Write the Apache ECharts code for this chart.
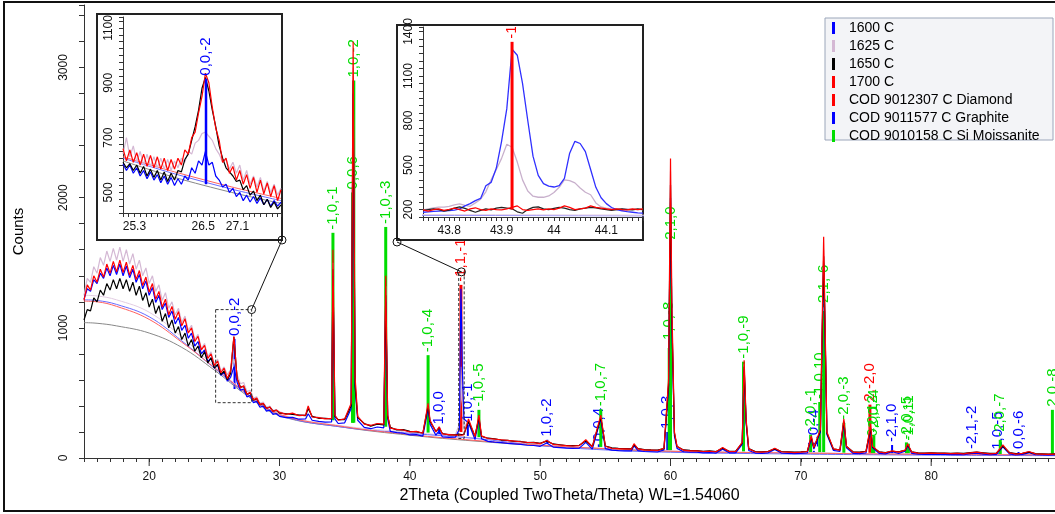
<!DOCTYPE html>
<html>
<head>
<meta charset="utf-8">
<script src="https://cdn.jsdelivr.net/npm/echarts@6/dist/echarts.min.js"></script>
<style>
  html, body { margin: 0; padding: 0; background: #fff; }
  #chart { width: 1055px; height: 514px; }
</style>
</head>
<body>
<div id="chart"></div>
<script>
// ---- main pattern: 2theta grid (0.25 step in the hump, 0.5 step after + peak points)
const twoTheta = [
  15, 15.25, 15.5, 15.75, 16, 16.25, 16.5, 16.75, 17, 17.25, 17.5, 17.75,
  18, 18.25, 18.5, 18.75, 19, 19.25, 19.5, 19.75, 20, 20.25, 20.5, 20.75,
  21, 21.25, 21.5, 21.75, 22, 22.25, 22.5, 22.75, 23, 23.25, 23.5, 23.75,
  24, 24.25, 24.5, 24.75, 25, 25.25, 25.5, 25.75, 26, 26.25, 26.5, 26.75,
  27, 27.25, 27.5, 27.75, 28, 28.25, 28.5, 28.75, 29, 29.25, 29.5, 29.75,
  30, 30.5, 31, 31.5, 32, 32.2, 32.5, 33, 33.5, 34,
  34.1, 34.25, 34.5, 35, 35.5, 35.65, 35.8, 36, 36.5, 37,
  37.5, 38, 38.15, 38.3, 38.5, 39, 39.5, 40, 40.5, 41,
  41.4, 41.55, 42, 42.25, 42.5, 43, 43.5, 43.8, 43.92, 43.98,
  44.03, 44.15, 44.5, 45, 45.3, 45.5, 46, 46.5, 47, 47.5,
  48, 48.5, 49, 49.5, 50, 50.5, 51, 51.5, 52, 52.5,
  53, 53.5, 54, 54.65, 55, 55.5, 56, 56.5, 57, 57.2,
  57.5, 58, 58.5, 59, 59.5, 59.85, 60, 60.1, 60.3, 60.5,
  61, 61.5, 62, 62.5, 63, 63.5, 64, 64.5, 65, 65.5,
  65.65, 65.8, 66, 66.5, 67, 67.5, 68, 68.5, 69, 69.5,
  70, 70.5, 70.8, 71, 71.5, 71.75, 71.9, 72, 72.5, 73,
  73.3, 73.5, 74, 74.5, 75, 75.35, 75.5, 76, 76.5, 77,
  77.5, 78, 78.2, 78.5, 79, 79.5, 80, 80.5, 81, 81.5,
  82, 82.5, 83, 83.5, 84, 84.5, 85, 85.5, 86, 86.5,
  87, 87.5, 88, 88.5, 89, 89.5
];

const counts1600 = [
  1220, 1300, 1280, 1370, 1340, 1420, 1380, 1460, 1400, 1480, 1410, 1490,
  1400, 1475, 1385, 1450, 1350, 1410, 1300, 1360, 1250, 1310, 1195, 1250,
  1140, 1190, 1080, 1130, 1030, 1080, 980, 1020, 920, 960, 860, 895,
  800, 830, 740, 770, 690, 715, 635, 660, 590, 620, 700, 580,
  520, 530, 470, 480, 425, 435, 390, 398, 360, 368, 335, 342,
  320, 310, 312, 298, 300, 340, 290, 282, 275, 278,
  1400, 300, 265, 270, 380, 2800, 540, 290, 235, 225,
  238, 232, 1200, 300, 205, 195, 190, 178, 180, 168,
  380, 260, 175, 210, 162, 158, 160, 220, 1300, 1000,
  680, 300, 270, 142, 300, 148, 128, 122, 118, 112,
  108, 104, 98, 96, 90, 115, 84, 80, 76, 74,
  76, 120, 68, 300, 72, 60, 57, 55, 54, 95,
  56, 50, 48, 46, 62, 540, 2000, 1050, 170, 74,
  48, 44, 44, 40, 42, 38, 68, 40, 40, 105,
  680, 270, 58, 38, 36, 40, 65, 38, 36, 33,
  36, 40, 150, 68, 200, 1500, 720, 180, 58, 50,
  270, 78, 36, 34, 40, 220, 78, 36, 32, 48,
  36, 52, 95, 36, 30, 28, 30, 28, 28, 26,
  28, 25, 34, 38, 30, 25, 28, 85, 32, 23,
  28, 40, 25, 23, 22, 24
];

const counts1625 = [
  1250, 1380, 1350, 1470, 1420, 1540, 1480, 1590, 1510, 1610, 1520, 1620,
  1510, 1600, 1490, 1570, 1450, 1520, 1400, 1460, 1340, 1400, 1280, 1330,
  1210, 1270, 1150, 1200, 1100, 1150, 1040, 1090, 980, 1020, 910, 950,
  840, 880, 780, 815, 720, 760, 670, 700, 640, 680, 760, 640,
  570, 580, 510, 520, 460, 470, 420, 430, 390, 398, 365, 372,
  355, 340, 340, 330, 335, 390, 318, 312, 305, 300,
  1500, 325, 292, 302, 410, 3000, 600, 318, 262, 252,
  262, 262, 1320, 325, 232, 222, 212, 202, 203, 188,
  410, 285, 202, 235, 186, 182, 178, 260, 700, 450,
  420, 230, 290, 166, 320, 168, 152, 146, 138, 134,
  132, 124, 121, 117, 112, 132, 104, 101, 94, 93,
  96, 135, 86, 320, 90, 76, 73, 70, 67, 105,
  71, 63, 60, 58, 73, 580, 2200, 1150, 195, 88,
  60, 56, 55, 51, 52, 49, 78, 50, 50, 118,
  720, 290, 70, 48, 46, 50, 72, 48, 46, 43,
  46, 50, 165, 80, 215, 1600, 780, 195, 70, 60,
  290, 88, 46, 43, 50, 240, 88, 46, 40, 54,
  46, 60, 105, 46, 38, 36, 38, 35, 36, 33,
  35, 33, 40, 44, 38, 33, 35, 95, 40, 31,
  35, 48, 32, 30, 29, 30
];

const counts1650 = [
  1060, 1140, 1130, 1230, 1200, 1290, 1250, 1340, 1290, 1370, 1300, 1380,
  1300, 1370, 1280, 1350, 1250, 1320, 1210, 1270, 1160, 1220, 1110, 1170,
  1050, 1110, 1000, 1060, 960, 1010, 910, 960, 860, 910, 820, 860,
  770, 815, 730, 770, 690, 720, 640, 670, 600, 650, 930, 610,
  545, 550, 490, 500, 445, 455, 410, 418, 382, 390, 360, 366,
  345, 340, 335, 330, 325, 380, 320, 305, 305, 300,
  1450, 320, 295, 295, 400, 2900, 560, 310, 265, 245,
  260, 255, 1250, 320, 235, 215, 218, 205, 200, 192,
  400, 280, 205, 230, 188, 178, 178, 182, 192, 180,
  185, 182, 280, 168, 310, 165, 152, 148, 138, 136,
  128, 127, 118, 120, 112, 130, 108, 102, 96, 95,
  98, 130, 88, 310, 92, 78, 74, 72, 70, 100,
  72, 65, 62, 60, 72, 560, 2100, 1100, 190, 88,
  62, 58, 56, 52, 55, 50, 75, 52, 52, 115,
  700, 280, 72, 50, 48, 52, 70, 50, 48, 45,
  48, 52, 160, 78, 210, 1550, 750, 190, 68, 62,
  280, 88, 48, 45, 52, 230, 85, 48, 42, 52,
  48, 58, 100, 48, 40, 38, 40, 38, 38, 35,
  37, 35, 42, 45, 40, 35, 38, 90, 42, 33,
  36, 45, 34, 32, 30, 32
];

const counts1700 = [
  1210, 1330, 1290, 1400, 1350, 1450, 1390, 1490, 1420, 1510, 1430, 1520,
  1425, 1505, 1405, 1480, 1370, 1440, 1325, 1390, 1275, 1340, 1220, 1280,
  1160, 1220, 1100, 1165, 1065, 1125, 1015, 1070, 960, 1000, 895, 935,
  830, 865, 765, 800, 710, 745, 655, 690, 610, 670, 935, 610,
  540, 555, 490, 505, 445, 460, 410, 420, 380, 392, 358, 368,
  350, 335, 345, 325, 330, 400, 315, 310, 300, 305,
  1600, 330, 290, 300, 420, 3200, 620, 320, 260, 250,
  265, 260, 1400, 330, 230, 220, 215, 200, 205, 190,
  420, 290, 200, 240, 185, 180, 175, 178, 185, 175,
  190, 180, 300, 165, 330, 170, 150, 145, 140, 135,
  130, 125, 120, 118, 110, 135, 105, 100, 95, 92,
  95, 140, 85, 330, 90, 75, 72, 70, 68, 110,
  70, 62, 60, 58, 75, 600, 2300, 1200, 200, 90,
  60, 55, 55, 50, 52, 48, 80, 50, 50, 120,
  750, 300, 70, 48, 45, 50, 75, 48, 45, 42,
  45, 50, 170, 80, 220, 1700, 800, 200, 70, 60,
  300, 90, 45, 42, 50, 250, 90, 45, 40, 55,
  45, 60, 110, 45, 38, 36, 38, 35, 36, 33,
  35, 32, 40, 45, 38, 32, 35, 100, 40, 30,
  35, 50, 32, 30, 28, 30
];

// ---- fitted backgrounds (thin lines), main view
const bgTheta = [15, 16, 17.5, 20, 22.5, 25, 27.5, 30, 35, 40, 45, 50, 55, 60, 70, 80, 89.5];
const bg1600 = [1215, 1210, 1180, 1085, 900, 690, 490, 330, 235, 190, 150, 95, 62, 44, 30, 22, 18];
const bg1625 = [1250, 1245, 1215, 1120, 930, 705, 500, 340, 245, 198, 155, 102, 74, 54, 40, 30, 25];
const bg1650 = [1040, 1035, 1015, 960, 850, 675, 480, 325, 235, 175, 130, 95, 70, 50, 38, 28, 24];
const bg1700 = [1205, 1200, 1165, 1065, 890, 695, 495, 335, 240, 180, 135, 98, 72, 52, 38, 28, 24];

// ---- fitted backgrounds as read in inset 1
const inset1BgTheta = [25.1, 26.0, 27.0, 27.86];
const inset1Bg1600 = [625, 568, 512, 470];
const inset1Bg1650 = [615, 555, 500, 460];
const inset1Bg1700 = [630, 575, 520, 478];

// ---- reference sticks: position, base, top, hkl label
const diamondTheta = [43.92, 75.3];
const diamondBase = [200, 40];
const diamondTop = [1330, 410];
const diamondLabels = ['-1,1,-1', '2,-2,0'];

const graphiteTheta = [26.55, 42.25, 44.45, 50.55, 54.5, 59.75, 71.0, 77.0, 83.1, 85.1, 86.7];
const graphiteBase = [530, 180, 170, 110, 85, 60, 45, 35, 30, 30, 28];
const graphiteTop = [915, 235, 255, 140, 105, 200, 55, 100, 46, 40, 46];
const graphiteLabels = ['0,0,-2', '1,0,0', '1,0,-1', '1,0,-2', '0,0,4', '1,0,3', '1,0,-4', '-2,1,0', '-2,1,-2', '1,0,-5', '0,0,-6'];

const moissaniteTheta = [34.1, 35.6, 35.7, 38.15, 41.4, 45.3, 54.65, 59.9, 60.0, 65.6, 70.75, 71.45, 71.75, 73.3, 75.5, 75.6, 78.1, 78.25, 85.3, 89.3];
const moissaniteBase = [290, 270, 270, 240, 195, 160, 85, 60, 60, 50, 45, 45, 45, 40, 38, 38, 35, 35, 30, 28];
const moissaniteTop = [1730, 2040, 2900, 1775, 790, 370, 375, 845, 1615, 740, 180, 430, 1130, 270, 140, 170, 120, 110, 140, 370];
const moissaniteLabels = ['-1,0,-1', '0,0,6', '1,0,-2', '-1,0,-3', '-1,0,-4', '-1,0,-5', '-1,0,-7', '-1,0,-8', '-2,1,0', '-1,0,-9', '-2,0,-1', '-1,0,10', '-2,1,-6', '-2,0,-3', '0,0,12', '-2,0,-4', '-2,0,-5', '-1,0,11', '-2,0,-7', '2,0,-8'];

// ---- inset 1 (around 26.5)
const inset1Theta = [
  25.10, 25.16, 25.22, 25.28, 25.34, 25.40, 25.46, 25.52,
  25.58, 25.64, 25.70, 25.76, 25.82, 25.88, 25.94, 26.00,
  26.06, 26.12, 26.18, 26.24, 26.30, 26.36, 26.42, 26.48,
  26.54, 26.60, 26.66, 26.72, 26.78, 26.84, 26.90, 26.96,
  27.02, 27.08, 27.14, 27.20, 27.26, 27.32, 27.38, 27.44,
  27.50, 27.56, 27.62, 27.68, 27.74, 27.80, 27.86
];
const inset1_1600 = [
  605, 580, 600, 570, 590, 560, 580, 550, 575, 545, 565, 535, 560, 530, 555, 525,
  550, 530, 560, 545, 590, 570, 615, 600, 650, 600, 610, 560, 545, 520, 530, 500,
  515, 485, 500, 470, 490, 465, 485, 460, 480, 455, 475, 450, 470, 450, 465
];
const inset1_1625 = [
  640, 700, 630, 670, 610, 650, 600, 640, 595, 630, 590, 625, 585, 620, 580, 615,
  590, 625, 610, 650, 640, 680, 690, 715, 720, 705, 690, 660, 640, 610, 620, 585,
  610, 570, 600, 545, 580, 530, 560, 520, 555, 505, 540, 500, 530, 490, 515
];
const inset1_1650 = [
  610, 590, 605, 580, 600, 570, 595, 560, 585, 555, 580, 545, 575, 540, 570, 545,
  580, 575, 620, 640, 690, 740, 800, 880, 920, 870, 800, 740, 670, 625, 590, 575,
  560, 540, 545, 510, 525, 490, 505, 470, 490, 455, 475, 445, 465, 440, 455
];
const inset1_1700 = [
  660, 615, 655, 610, 645, 600, 640, 595, 635, 590, 630, 585, 625, 580, 620, 585,
  625, 600, 655, 640, 700, 720, 790, 850, 935, 900, 810, 735, 690, 610, 625, 570,
  595, 545, 580, 530, 565, 515, 555, 500, 545, 495, 535, 485, 525, 470, 510
];

// ---- inset 2 (around 43.9)
const inset2Theta = [
  43.75, 43.76, 43.77, 43.78, 43.79, 43.80, 43.81, 43.82, 43.83, 43.84,
  43.85, 43.86, 43.87, 43.88, 43.89, 43.90, 43.91, 43.92, 43.93, 43.94,
  43.95, 43.96, 43.97, 43.98, 43.99, 44.00, 44.01, 44.02, 44.03, 44.04,
  44.05, 44.06, 44.07, 44.08, 44.09, 44.10, 44.11, 44.12, 44.13, 44.14,
  44.15, 44.16, 44.17
];
const inset2_1600 = [
  182, 185, 188, 190, 192, 193, 197, 205, 225, 240,
  260, 275, 360, 383, 480, 660, 880, 1280, 1240, 1050,
  800, 560, 430, 375, 358, 352, 362, 410, 580, 660,
  645, 590, 470, 350, 280, 240, 214, 200, 192, 186,
  182, 178, 176
];
const inset2_1625 = [
  198, 205, 212, 216, 216, 222, 232, 238, 228, 222,
  245, 270, 320, 400, 470, 545, 640, 620, 520, 400,
  325, 290, 283, 283, 292, 315, 350, 400, 395, 380,
  345, 317, 300, 245, 218, 210, 204, 204, 204, 204,
  202, 200, 200
];
const inset2_1650 = [
  195, 200, 205, 200, 190, 196, 210, 218, 208, 195,
  182, 195, 205, 198, 210, 215, 210, 205, 185, 175,
  200, 215, 218, 205, 200, 208, 215, 210, 200, 195,
  205, 210, 215, 212, 205, 200, 195, 200, 205, 200,
  198, 205, 200
];
const inset2_1700 = [
  198, 190, 200, 205, 195, 202, 210, 200, 190, 205,
  212, 200, 195, 205, 200, 198, 205, 215, 225, 200,
  195, 200, 205, 198, 205, 200, 210, 225, 215, 200,
  205, 210, 225, 215, 210, 205, 200, 205, 200, 198,
  205, 200, 205
];

const seriesNames = ['1600 C', '1625 C', '1650 C', '1700 C', 'COD 9012307 C Diamond', 'COD 9011577 C Graphite', 'COD 9010158 C Si Moissanite'];

const FONT = "'Liberation Sans', Arial, sans-serif";
const BLUE = '#0000ff', PINK = '#d4b8d4', BLACK = '#000000', RED = '#ff0000', GREEN = '#00dd00';

function pairs(xs, ys) {
  return xs.map((x, i) => [x, ys[i]]);
}

function dataLine(name, xs, ys, color, idx, width, z, smooth) {
  return {
    name: name, type: 'line', xAxisIndex: idx, yAxisIndex: idx,
    data: pairs(xs, ys), showSymbol: false, symbol: 'none', smooth: smooth || false,
    lineStyle: { color: color, width: width }, itemStyle: { color: color },
    z: z, clip: true, silent: true, animation: false
  };
}

function stickSeries(name, theta, base, top, labels, color, width, idx, z) {
  return {
    name: name, type: 'custom', xAxisIndex: idx, yAxisIndex: idx,
    data: theta.map((t, i) => [t, base[i], top[i]]),
    encode: { x: 0, y: [1, 2] },
    itemStyle: { color: color }, clip: idx > 0, z: z, silent: true, animation: false,
    renderItem: function (params, api) {
      const p0 = api.coord([api.value(0), api.value(1)]);
      const p1 = api.coord([api.value(0), api.value(2)]);
      return {
        type: 'group',
        children: [
          { type: 'line', shape: { x1: p0[0], y1: p0[1], x2: p1[0], y2: p1[1] },
            style: { stroke: color, lineWidth: width } },
          { type: 'text', x: p1[0], y: p1[1] - 3, rotation: Math.PI / 2,
            style: { text: labels[params.dataIndex], fill: color, font: '15px ' + FONT,
                     align: 'left', verticalAlign: 'middle' } }
        ]
      };
    }
  };
}

const axisLineStyle = { color: '#333', width: 1 };
const tickFont = { fontFamily: FONT, fontSize: 12, color: '#111' };

var option = {
  backgroundColor: '#fff',
  animation: false,
  grid: [
    { left: 84, top: 5, right: 0, bottom: 56, containLabel: false, outerBoundsMode: 'none' },
    { left: 123, top: 17, width: 158, height: 196, containLabel: false, outerBoundsMode: 'none' },
    { left: 423, top: 27, width: 220, height: 190, containLabel: false, outerBoundsMode: 'none' }
  ],
  xAxis: [
    {
      type: 'value', gridIndex: 0, min: 15, max: 89.5, interval: 1,
      axisLine: { lineStyle: axisLineStyle }, axisTick: { length: 4, lineStyle: axisLineStyle },
      splitLine: { show: false },
      axisLabel: Object.assign({ margin: 13, formatter: v => (v % 10 === 0 ? String(v) : '') }, tickFont),
      name: '2Theta (Coupled TwoTheta/Theta) WL=1.54060', nameLocation: 'middle', nameGap: 30,
      nameTextStyle: { fontFamily: FONT, fontSize: 16, color: '#000' }
    },
    {
      type: 'value', gridIndex: 1, min: 25.1, max: 27.86, interval: 0.1, z: 20,
      axisLine: { lineStyle: axisLineStyle }, axisTick: { length: 4, lineStyle: axisLineStyle },
      splitLine: { show: false },
      axisLabel: Object.assign({ margin: 8, formatter: function (v) {
        const k = Math.round(v * 10);
        return (k === 253 || k === 265 || k === 271) ? (k / 10).toFixed(1) : '';
      } }, tickFont)
    },
    {
      type: 'value', gridIndex: 2, min: 43.75, max: 44.17, interval: 0.01, z: 20,
      axisLine: { lineStyle: axisLineStyle }, axisTick: { length: 4, lineStyle: axisLineStyle },
      splitLine: { show: false },
      axisLabel: Object.assign({ margin: 8, formatter: function (v) {
        const k = Math.round(v * 100);
        return k % 10 === 0 ? String(k / 100) : '';
      } }, tickFont)
    }
  ],
  yAxis: [
    {
      type: 'value', gridIndex: 0, min: 0, max: 3480, interval: 200,
      axisLine: { show: true, lineStyle: axisLineStyle }, axisTick: { show: true, length: 5, lineStyle: axisLineStyle },
      splitLine: { show: false },
      axisLabel: Object.assign({ margin: 14, rotate: 90, formatter: v => (v % 1000 === 0 ? String(v) : '') }, tickFont),
      name: 'Counts', nameLocation: 'middle', nameRotate: 90, nameGap: 58,
      nameTextStyle: { fontFamily: FONT, fontSize: 15, color: '#000' }
    },
    {
      type: 'value', gridIndex: 1, min: 425, max: 1140, interval: 25, z: 20,
      axisLine: { show: true, lineStyle: axisLineStyle }, axisTick: { show: true, length: 4, lineStyle: axisLineStyle },
      splitLine: { show: false },
      axisLabel: Object.assign({ margin: 8, rotate: 90, formatter: function (v) {
        const k = Math.round(v);
        return (k >= 500 && (k - 500) % 200 === 0) ? String(k) : '';
      } }, tickFont)
    },
    {
      type: 'value', gridIndex: 2, min: 150, max: 1430, interval: 50, z: 20,
      axisLine: { show: true, lineStyle: axisLineStyle }, axisTick: { show: true, length: 4, lineStyle: axisLineStyle },
      splitLine: { show: false },
      axisLabel: Object.assign({ margin: 8, rotate: 90, formatter: function (v) {
        const k = Math.round(v);
        return (k >= 200 && (k - 200) % 300 === 0) ? String(k) : '';
      } }, tickFont)
    }
  ],
  legend: {
    orient: 'vertical', left: 827, top: 16, itemGap: 4, itemWidth: 12, itemHeight: 12,
    icon: 'path://M0,0h3v12h-3zM12,12h0.01v0.01h-0.01z',
    selectedMode: false, z: 40,
    textStyle: { fontFamily: FONT, fontSize: 14, color: '#000' },
    data: seriesNames
  },
  series: [
    // main pattern
    dataLine('1600 C', twoTheta, counts1600, BLUE, 0, 1.2, 3),
    dataLine('1625 C', twoTheta, counts1625, PINK, 0, 1.2, 2),
    dataLine('1650 C', twoTheta, counts1650, BLACK, 0, 1.2, 3),
    dataLine('1700 C', twoTheta, counts1700, RED, 0, 1.2, 4),
    dataLine('bg1650', bgTheta, bg1650, '#888888', 0, 1, 2, 0.4),
    dataLine('bg1625', bgTheta, bg1625, '#e2cce2', 0, 1, 2, 0.4),
    dataLine('bg1600', bgTheta, bg1600, '#6a6aff', 0, 1, 2, 0.4),
    dataLine('bg1700', bgTheta, bg1700, '#ff6060', 0, 1, 2, 0.4),
    stickSeries('COD 9012307 C Diamond', diamondTheta, diamondBase, diamondTop, diamondLabels, RED, 3, 0, 1),
    stickSeries('COD 9011577 C Graphite', graphiteTheta, graphiteBase, graphiteTop, graphiteLabels, BLUE, 2, 0, 1),
    stickSeries('COD 9010158 C Si Moissanite', moissaniteTheta, moissaniteBase, moissaniteTop, moissaniteLabels, GREEN, 3, 0, 1),
    // inset 1
    dataLine('bg1650', inset1BgTheta, inset1Bg1650, '#888888', 1, 1, 20, 0.3),
    dataLine('bg1600', inset1BgTheta, inset1Bg1600, '#6a6aff', 1, 1, 20, 0.3),
    dataLine('bg1700', inset1BgTheta, inset1Bg1700, '#ff6060', 1, 1, 20, 0.3),
    dataLine('1625 C', inset1Theta, inset1_1625, PINK, 1, 1.2, 21),
    dataLine('1600 C', inset1Theta, inset1_1600, BLUE, 1, 1.2, 22),
    dataLine('1650 C', inset1Theta, inset1_1650, BLACK, 1, 1.2, 23),
    dataLine('1700 C', inset1Theta, inset1_1700, RED, 1, 1.2, 24),
    stickSeries('COD 9011577 C Graphite', graphiteTheta, graphiteBase, graphiteTop, graphiteLabels, BLUE, 2.5, 1, 25),
    // inset 2
    dataLine('bg1600', bgTheta, bg1600, '#8a8aff', 2, 1, 20, 0.4),
    dataLine('bg1625', bgTheta, bg1625, '#e2cce2', 2, 1, 20, 0.4),
    dataLine('1625 C', inset2Theta, inset2_1625, '#c8b0cc', 2, 1.3, 21),
    dataLine('1600 C', inset2Theta, inset2_1600, '#3030ff', 2, 1.3, 22),
    dataLine('1650 C', inset2Theta, inset2_1650, '#222222', 2, 1.2, 23),
    dataLine('1700 C', inset2Theta, inset2_1700, RED, 2, 1.2, 24),
    stickSeries('COD 9012307 C Diamond', diamondTheta, diamondBase, diamondTop, diamondLabels, RED, 3, 2, 25)
  ]
};

const chart = echarts.init(document.getElementById('chart'));
chart.setOption(option);

// frames, zoom boxes and connectors
const toPx = (x, y) => chart.convertToPixel({ xAxisIndex: 0, yAxisIndex: 0 }, [x, y]);
const r1a = toPx(25.1, 1140), r1b = toPx(27.86, 425);
const r2a = toPx(43.75, 1430), r2b = toPx(44.17, 150);
const r2mid = (r2a[0] + r2b[0]) / 2;

const elements = [
  { type: 'rect', shape: { x: 825, y: 18, width: 228, height: 122 },
    style: { fill: '#f3f4f7', stroke: '#9ba6ba', lineWidth: 1 }, z: 3, silent: true },
  { type: 'rect', shape: { x: 97, y: 14, width: 185, height: 226 },
    style: { fill: '#fff', stroke: '#222', lineWidth: 2 }, z: 10, silent: true },
  { type: 'rect', shape: { x: 397, y: 25, width: 246, height: 215 },
    style: { fill: '#fff', stroke: '#222', lineWidth: 2 }, z: 10, silent: true },
  { type: 'rect', shape: { x: r1a[0], y: r1a[1], width: r1b[0] - r1a[0], height: r1b[1] - r1a[1] },
    style: { fill: 'none', stroke: '#333', lineWidth: 1, lineDash: [3, 2] }, z: 6, silent: true },
  { type: 'rect', shape: { x: r2a[0], y: r2a[1], width: r2b[0] - r2a[0], height: r2b[1] - r2a[1] },
    style: { fill: 'none', stroke: '#333', lineWidth: 1, lineDash: [3, 2] }, z: 6, silent: true },
  { type: 'line', shape: { x1: r1b[0], y1: r1a[1], x2: 282, y2: 240 },
    style: { stroke: '#111', lineWidth: 1 }, z: 26, silent: true },
  { type: 'line', shape: { x1: r2mid, y1: r2a[1], x2: 397, y2: 242 },
    style: { stroke: '#111', lineWidth: 1 }, z: 26, silent: true },
  { type: 'circle', shape: { cx: r1b[0], cy: r1a[1], r: 4 }, style: { fill: 'none', stroke: '#111', lineWidth: 1 }, z: 27, silent: true },
  { type: 'circle', shape: { cx: 282, cy: 240, r: 4 }, style: { fill: 'none', stroke: '#111', lineWidth: 1 }, z: 27, silent: true },
  { type: 'circle', shape: { cx: r2mid, cy: r2a[1], r: 4 }, style: { fill: 'none', stroke: '#111', lineWidth: 1 }, z: 27, silent: true },
  { type: 'circle', shape: { cx: 397, cy: 242, r: 4 }, style: { fill: 'none', stroke: '#111', lineWidth: 1 }, z: 27, silent: true },
  { type: 'rect', shape: { x: 4, y: 2, width: 1060, height: 509 },
    style: { fill: 'none', stroke: '#111', lineWidth: 2 }, z: 30, silent: true }
];
// longer ticks at the labelled 2theta values
for (let v = 20; v <= 80; v += 10) {
  const p = toPx(v, 0);
  elements.push({ type: 'line', shape: { x1: p[0], y1: p[1], x2: p[0], y2: p[1] + 8 },
    style: { stroke: '#333', lineWidth: 1 }, z: 6, silent: true });
}
chart.setOption({ graphic: { elements: elements } });
</script>
</body>
</html>
